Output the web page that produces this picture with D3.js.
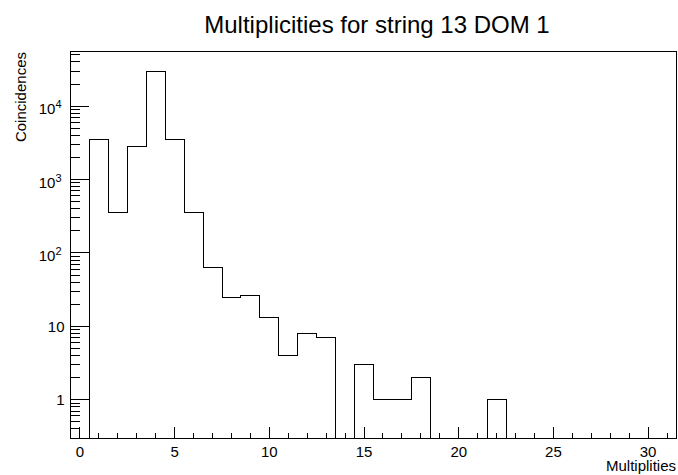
<!DOCTYPE html>
<html>
<head>
<meta charset="utf-8">
<script src="https://cdn.jsdelivr.net/npm/d3@7"></script>
<style>
  body { margin: 0; background: #fff; }
  text { font-family: "Liberation Sans", Arial, Helvetica, sans-serif; fill: #000; }
</style>
</head>
<body>
<svg id="chart" width="678" height="475"></svg>
<script>
// histogram contents, one entry per multiplicity 0..31 (0 = empty bin)
const multiplicities = d3.range(0, 32)
const counts = [0, 3500, 360, 2800, 29500, 3500, 360, 63, 25, 26, 13, 4, 8, 7, 0, 3,
  1, 1, 2, 0, 0, 0, 1, 0, 0, 0, 0, 0, 0, 0, 0, 0]
// the little step drawn at the far left of the frame
const lowStep = {from: -0.5, to: 0, value: 0.4}

const xTickLabels = [0, 5, 10, 15, 20, 25, 30]
const yTickLabels = [1, 10, 100, 1000, 10000]

const title = 'Multiplicities for string 13 DOM 1'
const xTitle = 'Multiplities'
const yTitle = 'Coincidences'

const margin = {top: 51, left: 70}
const width = 606
const height = 387

const svg = d3.select('#chart')
const g = svg.append('g').attr('transform', `translate(${margin.left + 0.5},${margin.top + 0.5})`)

const x = d3.scaleLinear().domain([-0.5, 31.5]).range([0, width])
const y = d3.scaleLog().domain([0.296, 55500]).range([height, 0])

const bottom = height
const yOf = v => v > 0 ? Math.round(y(v)) : bottom
const xOf = v => Math.round(x(v))

// histogram outline
const pts = [[xOf(-0.5), bottom]]
counts.forEach((c, i) => {
  pts.push([xOf(multiplicities[i] - 0.5), yOf(c)])
  pts.push([xOf(multiplicities[i] + 0.5), yOf(c)])
})
pts.push([xOf(31.5), bottom])

g.append('path')
  .attr('d', d3.line()(pts))
  .attr('fill', 'none')
  .attr('stroke', '#000')
  .attr('stroke-width', 1)
  .attr('shape-rendering', 'crispEdges')

g.append('path')
  .attr('d', d3.line()([
    [xOf(lowStep.from), bottom], [xOf(lowStep.from), yOf(lowStep.value)],
    [xOf(lowStep.to), yOf(lowStep.value)], [xOf(lowStep.to), bottom]]))
  .attr('fill', 'none')
  .attr('stroke', '#000')
  .attr('shape-rendering', 'crispEdges')

// ticks (pointing inward, ROOT style)
const tickStyle = sel => sel.attr('stroke', '#000').attr('shape-rendering', 'crispEdges')

const xMinor = d3.range(0, 32)
g.selectAll('.xtick').data(xMinor).enter().append('line')
  .attr('x1', d => xOf(d)).attr('x2', d => xOf(d))
  .attr('y1', bottom).attr('y2', d => d % 5 === 0 ? bottom - 12 : bottom - 6)
  .call(tickStyle)

const yTicks = []
for (let e = -1; e <= 4; e++) {
  for (let m = 1; m <= 9; m++) {
    const v = m * Math.pow(10, e)
    if (v >= y.domain()[0] && v <= y.domain()[1]) yTicks.push({v, major: m === 1})
  }
}
g.selectAll('.ytick').data(yTicks).enter().append('line')
  .attr('x1', 0).attr('x2', d => d.major ? 18 : 9)
  .attr('y1', d => yOf(d.v)).attr('y2', d => yOf(d.v))
  .call(tickStyle)

// frame
g.append('rect')
  .attr('x', 0).attr('y', 0).attr('width', width).attr('height', height)
  .attr('fill', 'none').attr('stroke', '#000').attr('shape-rendering', 'crispEdges')

// x labels
g.selectAll('.xlab').data(xTickLabels).enter().append('text')
  .attr('x', d => x(d)).attr('y', bottom + 18)
  .attr('text-anchor', 'middle')
  .style('font-size', '15px')
  .text(d => d)

// y labels: 1, 10, then 10^n
yTickLabels.forEach(v => {
  const exp = Math.round(Math.log10(v))
  const t = g.append('text')
    .attr('text-anchor', 'end')
    .style('font-size', '15px')
  if (exp <= 1) {
    t.attr('x', -6).attr('y', y(v) + 5.5).text(v)
  } else {
    t.attr('x', -9).attr('y', y(v) + 8)
    t.append('tspan').text('10')
    t.append('tspan').attr('dy', -6).style('font-size', '11px').text(exp)
  }
})

// titles
svg.append('text')
  .attr('x', 377).attr('y', 33)
  .attr('text-anchor', 'middle')
  .style('font-size', '24px')
  .text(title)

svg.append('text')
  .attr('x', 676).attr('y', 471)
  .attr('text-anchor', 'end')
  .style('font-size', '15px')
  .text(xTitle)

svg.append('text')
  .attr('transform', 'translate(26,52) rotate(-90)')
  .attr('text-anchor', 'end')
  .style('font-size', '15px')
  .text(yTitle)
</script>
</body>
</html>
